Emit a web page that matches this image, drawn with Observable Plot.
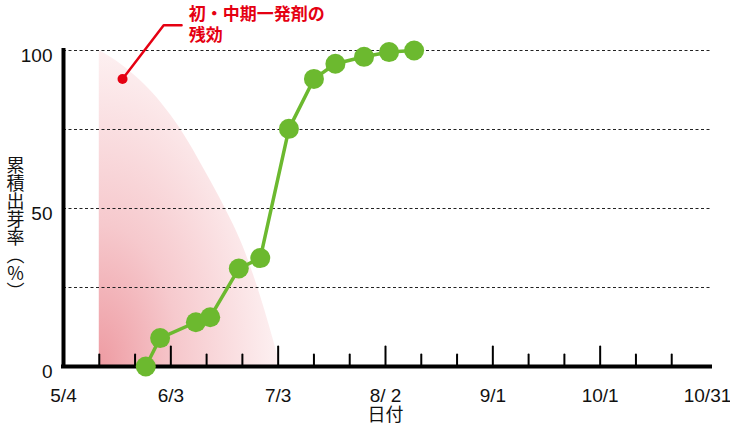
<!DOCTYPE html>
<html>
<head>
<meta charset="utf-8">
<script src="https://cdn.jsdelivr.net/npm/d3@7"></script>
<script src="https://cdn.jsdelivr.net/npm/@observablehq/plot@0.6"></script>
<style>
  html, body { margin: 0; padding: 0; background: #fff; }
  #chart svg { display: block; }
</style>
</head>
<body>
<div id="chart"></div>
<script>
// ---- data ----
const emergenceDates = ["2020-05-27","2020-05-31","2020-06-10","2020-06-14","2020-06-22","2020-06-28","2020-07-06","2020-07-13","2020-07-19","2020-07-27","2020-08-03","2020-08-10"];
const emergenceValues = [0, 9, 14, 15.6, 31, 34.3, 75.2, 91, 95.8, 98, 99.5, 100];

const effectDates = ["2020-05-14","2020-05-19","2020-05-24","2020-05-29","2020-06-03","2020-06-08","2020-06-13","2020-06-18","2020-06-23","2020-06-28","2020-07-03"];
const effectValues = [100, 96.5, 92, 86.5, 79.5, 71, 61, 50.5, 38.5, 22.5, 3];

const xTickDates = ["2020-05-04","2020-06-03","2020-07-03","2020-08-02","2020-09-01","2020-10-01","2020-10-31"];
const xTickLabels = ["5/4","6/3","7/3","8/ 2","9/1","10/1","10/31"];
const majorTickDates = ["2020-06-03","2020-07-03","2020-08-02","2020-09-01","2020-10-01"];
const minorTickDates = ["2020-05-14","2020-05-24","2020-06-13","2020-06-23","2020-07-13","2020-07-23","2020-08-12","2020-08-22","2020-09-11","2020-09-21","2020-10-11","2020-10-21"];
const yTicks = [0, 50, 100];
const gridValues = [25, 50, 75, 100];

const annotationText = "初・中期一発剤の\n残効";
const annotationPoint = {date: "2020-05-20T12:00", value: 91};
const leaderDates = ["2020-05-20T12:00", "2020-06-01", "2020-06-06"];
const leaderValues = [91, 108, 108];
const annotationTextPos = {date: "2020-06-08", value: 108.4};

const yLabel = "累積出芽率（%）";
const xLabel = "日付";
const xDomain = ["2020-05-04", "2020-10-31"];

// ---- build tables ----
const P = s => new Date(s.length > 10 ? s + "Z" : s);
const emergence = emergenceDates.map((d, i) => ({date: P(d), value: emergenceValues[i]}));
const effect = effectDates.map((d, i) => ({date: P(d), value: effectValues[i]}));
const leader = leaderDates.map((d, i) => ({date: P(d), value: leaderValues[i]}));

const GREEN = "#6cb92f";
const RED = "#e50012";
const FONT = "'Liberation Sans', 'Noto Sans CJK JP', sans-serif";

const defs = () => {
  const g = d3.create("svg:defs");
  const rg = g.append("radialGradient").attr("id", "pinkGrad")
    .attr("cx", 0).attr("cy", 1).attr("r", 1).attr("fx", 0).attr("fy", 1);
  rg.append("stop").attr("offset", "0%").attr("stop-color", "#ee9ba2");
  rg.append("stop").attr("offset", "45%").attr("stop-color", "#f6c9cd");
  rg.append("stop").attr("offset", "100%").attr("stop-color", "#fdf0f1");
  return g.node();
};

const lineShape = {draw(context, l) { context.moveTo(0, 0); context.lineTo(0, -l); }};

const chart = Plot.plot({
  width: 730,
  height: 428,
  marginLeft: 63,
  marginRight: 23,
  marginTop: 50,
  marginBottom: 62,
  style: {fontFamily: FONT, background: "#fff", color: "#111"},
  x: {type: "utc", domain: xDomain.map(P)},
  y: {domain: [0, 100]},
  marks: [
    defs,
    Plot.areaY(effect, {x: "date", y: "value", fill: "url(#pinkGrad)", curve: "monotone-x"}),
    Plot.ruleY(gridValues, {stroke: "#222", strokeWidth: 1, strokeDasharray: "3,2.5", insetRight: -3}),
    Plot.vector(minorTickDates.map(P), {x: d => d, y: 0, length: 12, anchor: "start", shape: lineShape, stroke: "#000", strokeWidth: 2}),
    Plot.vector(majorTickDates.map(P), {x: d => d, y: 0, length: 20, anchor: "start", shape: lineShape, stroke: "#000", strokeWidth: 2}),
    Plot.ruleY([0], {stroke: "#000", strokeWidth: 4, insetRight: -3, strokeLinecap: "square"}),
    Plot.ruleX([P(xDomain[0])], {y1: 0, y2: 100, stroke: "#000", strokeWidth: 4, strokeLinecap: "square"}),
    Plot.axisY({ticks: yTicks, tickSize: 0, tickPadding: 11, fontSize: 19, dy: 5, label: null}),
    Plot.axisX({ticks: xTickDates.map(P), tickFormat: (d, i) => xTickLabels[i], tickSize: 0, tickPadding: 22, fontSize: 19, label: null}),
    Plot.text([xLabel], {frameAnchor: "bottom", lineAnchor: "middle", dy: 49, fontSize: 18}),
    Plot.text([yLabel], {frameAnchor: "left", textAnchor: "middle", dx: -48, dy: 20, fontSize: 18, fontFamily: "'Noto Sans CJK JP', sans-serif"}),
    Plot.line(emergence, {x: "date", y: "value", stroke: GREEN, strokeWidth: 3.5}),
    Plot.dot(emergence, {x: "date", y: "value", r: 10, fill: GREEN}),
    Plot.line(leader, {x: "date", y: "value", stroke: RED, strokeWidth: 2.5}),
    Plot.dot([annotationPoint], {x: d => P(d.date), y: "value", r: 5, fill: RED}),
    Plot.text([annotationTextPos], {x: d => P(d.date), y: "value", text: () => annotationText, textAnchor: "start", lineAnchor: "middle", lineHeight: 1.2, fontSize: 17, fontWeight: "bold", fill: RED})
  ]
});

// vertical (tategaki) writing for the y-axis label
d3.select(chart).selectAll("text").filter(function() { return this.textContent === yLabel; })
  .attr("y", null)
  .style("writing-mode", "vertical-rl")
  .style("text-orientation", "upright");

document.getElementById("chart").appendChild(chart);
</script>
</body>
</html>
